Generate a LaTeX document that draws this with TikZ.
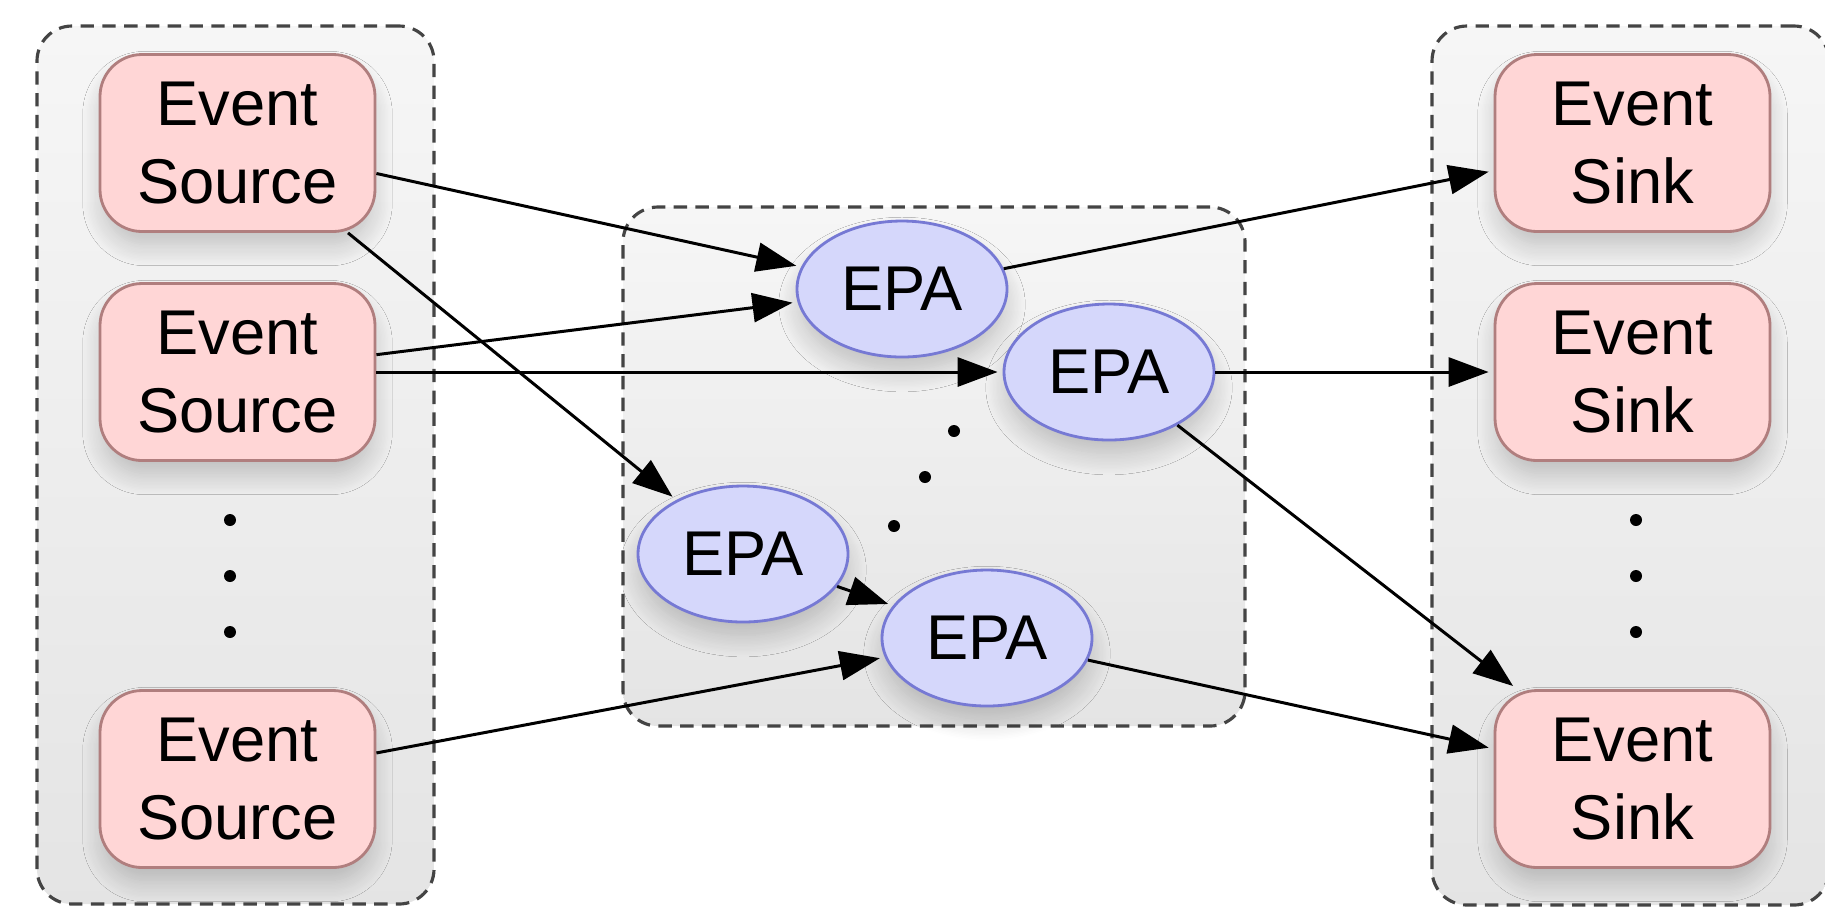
\documentclass[tikz,border=0pt]{standalone}
\usepackage{fontspec}
\setmainfont{Liberation Sans}
\usepackage{xcolor}
\definecolor{rosado}{RGB}{255,214,214}
\definecolor{rosaborde}{RGB}{176,126,126}
\definecolor{lila}{RGB}{213,215,251}
\definecolor{lilaborde}{RGB}{118,121,212}
\definecolor{grisborde}{RGB}{68,68,68}
\usetikzlibrary{shapes, arrows.meta, positioning, shadows.blur}

\tikzset{
  sombra/.style = {blur shadow={shadow xshift=0cm, shadow yshift=-0.16cm, shadow scale=0.97,
    shadow blur radius=0.22cm, shadow blur steps=16, shadow opacity=22}},
  evento/.style = {rectangle, rounded corners=0.42cm, draw=rosaborde, fill=rosado, line width=0.8pt,
    minimum width=2.75cm, minimum height=1.77cm, align=center, font=\fontsize{18}{22.4}\selectfont, sombra},
  epa/.style = {ellipse, draw=lilaborde, fill=lila, line width=0.8pt, minimum width=2.1cm,
    minimum height=1.36cm, inner sep=0pt, font=\fontsize{18}{22.4}\selectfont, sombra},
  grupo/.style = {rectangle, rounded corners=0.35cm, draw=grisborde, dash pattern=on 3.8pt off 2.4pt,
    line width=0.9pt, top color=gray!7, bottom color=gray!21},
  flecha/.style = {-{Triangle[length=0.40cm, width=0.29cm]}, line width=0.85pt, shorten >=0.05cm},
  punto/.style = {circle, fill=black, inner sep=0pt, minimum size=0.12cm}
}

\begin{document}
\begin{tikzpicture}
      \clip (0,0) rectangle (18.25,-9.08);

      % Grupos
      \node[grupo, minimum width=3.97cm, minimum height=8.78cm] (fuentes) at (2.355,-4.65) {};
      \node[grupo, minimum width=6.22cm, minimum height=5.19cm] (red) at (9.34,-4.665) {};
      \node[grupo, minimum width=3.97cm, minimum height=8.79cm] (sumideros) at (16.305,-4.655) {};

      % Fuentes
      \node[evento] (es1) at (2.375,-1.43) {Event\\Source};
      \node[evento] (es2) at (2.375,-3.72) {Event\\Source};
      \node[evento] (es3) at (2.375,-7.79) {Event\\Source};

      % Sumideros
      \node[evento] (sk1) at (16.325,-1.43) {Event\\Sink};
      \node[evento] (sk2) at (16.325,-3.72) {Event\\Sink};
      \node[evento] (sk3) at (16.325,-7.79) {Event\\Sink};

      % Agentes
      \node[epa] (epa1) at (9.02,-2.89) {EPA};
      \node[epa] (epa2) at (11.09,-3.72) {EPA};
      \node[epa] (epa3) at (7.43,-5.54) {EPA};
      \node[epa] (epa4) at (9.87,-6.38) {EPA};

      % Puntos
      \foreach \y [count=\i] in {5.20, 5.76, 6.32}
        \node[punto] (pf\i) at (2.30,-\y) {};
      \foreach \y [count=\i] in {5.20, 5.76, 6.32}
        \node[punto] (ps\i) at (16.36,-\y) {};
      \node[punto] (pm1) at (9.54,-4.31) {};
      \node[punto] (pm2) at (9.25,-4.77) {};
      \node[punto] (pm3) at (8.94,-5.26) {};

      % Flechas
      \draw[flecha] (es1) -- (epa1);
      \draw[flecha] (es1) -- (epa3);
      \draw[flecha] (es2) -- (epa1);
      \draw[flecha] (es2) -- (epa2);
      \draw[flecha] (es3) -- (epa4);
      \draw[flecha] (epa3) -- (epa4);
      \draw[flecha] (epa1) -- (sk1);
      \draw[flecha] (epa2) -- (sk2);
      \draw[flecha] (epa2) -- (sk3);
      \draw[flecha] (epa4) -- (sk3);
    \end{tikzpicture}
\end{document}
